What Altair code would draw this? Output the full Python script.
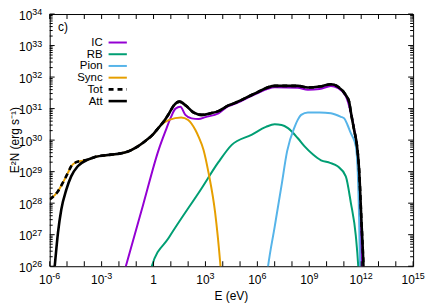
import altair as alt
import pandas as pd

FONT = "Liberation Sans"

# ---- data: log10(E / eV) and log10(E^2 N / erg s^-1) ----
ic_logE = [-1.75, -1.6, -0.6, 0.3, 0.7, 1.0, 1.27, 1.55, 1.84, 2.2, 2.6, 3.0, 3.75, 4.33, 4.71, 5.86,
           7.0, 8.34, 8.92, 9.6, 10.25, 10.64, 11.11, 11.4, 11.6, 11.75, 11.85, 11.95, 12.02, 12.05]
ic_logL = [25.7, 26.0, 27.95, 29.7, 30.3, 30.72, 31.0, 31.06, 30.8, 30.69, 30.67, 30.73, 30.85, 31.08, 31.15, 31.45,
           31.68, 31.66, 31.6, 31.62, 31.72, 31.66, 31.4, 30.87, 30.33, 29.8, 29.0, 27.4, 26.0, 25.5]

rb_logE = [-0.2, -0.1, 0.88, 2.8, 3.75, 4.52, 5.66, 6.5, 7.0, 7.4, 7.77, 8.34, 8.73, 9.2, 9.68, 10.2,
           10.64, 11.11, 11.4, 11.69, 11.83, 11.86]
rb_logL = [25.8, 26.0, 26.9, 28.49, 29.3, 29.85, 30.17, 30.42, 30.5, 30.48, 30.38, 30.06, 29.8, 29.55, 29.36, 29.28,
           29.17, 28.85, 28.02, 26.96, 26.0, 25.7]

pion_logE = [6.55, 6.62, 7.0, 7.39, 7.72, 8.16, 8.34, 8.53, 8.92, 9.6, 10.25, 10.83, 11.02, 11.21, 11.4, 11.5,
             11.69, 11.8, 11.88, 11.93, 11.95]
pion_logL = [25.7, 26.0, 27.25, 28.54, 29.65, 30.43, 30.65, 30.8, 30.88, 30.88, 30.85, 30.74, 30.69, 30.48, 30.22, 30.11,
             29.8, 29.0, 27.5, 26.0, 25.5]

sync_logE = [-6.0, -5.52, -5.24, -4.95, -4.76, -4.47, -4.1, -3.8, -3.42, -2.46, -1.9, -1.52, -1.0, -0.55, 0.0, 0.4,
             0.9, 1.6, 2.0, 2.42, 2.6, 2.89, 3.18, 3.56, 3.85, 3.9]
sync_logL = [28.12, 28.38, 28.65, 28.96, 29.17, 29.3, 29.35, 29.38, 29.46, 29.54, 29.58, 29.63, 29.77, 29.94, 30.2, 30.46,
             30.64, 30.72, 30.64, 30.32, 30.11, 29.69, 28.96, 27.7, 26.13, 25.8]

att_logE = [-5.78, -5.71, -5.52, -5.33, -5.04, -4.76, -4.38, -3.8, -3.42, -2.46, -1.9, -1.52, -1.0, -0.55, 0.0, 0.3,
            0.6, 0.88, 1.17, 1.5, 1.9, 2.3, 2.8, 3.3, 3.75, 4.33, 4.71, 5.86, 7.0, 8.34, 8.92, 9.6, 10.25, 10.64,
            11.11, 11.31, 11.4, 11.6, 11.75, 11.88, 12.01, 12.13, 12.16]
att_logL = [25.6, 26.0, 27.07, 27.8, 28.43, 28.85, 29.17, 29.38, 29.46, 29.54, 29.58, 29.63, 29.77, 29.94, 30.2, 30.4,
            30.6, 30.83, 31.1, 31.22, 31.08, 30.88, 30.8, 30.85, 30.92, 31.1, 31.18, 31.48, 31.72, 31.72, 31.67, 31.7,
            31.77, 31.7, 31.43, 31.2, 30.9, 30.3, 29.85, 29.06, 27.49, 26.0, 25.5]

tot_logE = [-6.0, -5.52, -5.24, -4.95, -4.76, -4.47, -4.1, -3.8, -3.42, -2.46, -1.9, -1.52, -1.0, -0.55, 0.0, 0.3,
            0.6, 0.88, 1.17, 1.5, 1.9, 2.3, 2.8, 3.3, 3.75, 4.33, 4.71, 5.86, 7.0, 8.34, 8.92, 9.6, 10.25, 10.64,
            11.11, 11.31, 11.4, 11.6, 11.75, 11.88, 12.01, 12.13, 12.16]
tot_logL = [28.12, 28.38, 28.65, 28.96, 29.17, 29.3, 29.35, 29.38, 29.46, 29.54, 29.58, 29.63, 29.77, 29.94, 30.2, 30.4,
            30.6, 30.83, 31.1, 31.22, 31.08, 30.88, 30.8, 30.85, 30.92, 31.1, 31.18, 31.48, 31.72, 31.72, 31.67, 31.7,
            31.77, 31.7, 31.43, 31.2, 30.9, 30.3, 29.85, 29.06, 27.49, 26.0, 25.5]

series_names = ["IC", "RB", "Pion", "Sync", "Tot", "Att"]
series_colors = ["#9400d3", "#009e73", "#56b4e9", "#e69f00", "#000000", "#000000"]
series_data = [(ic_logE, ic_logL), (rb_logE, rb_logL), (pion_logE, pion_logL),
               (sync_logE, sync_logL), (tot_logE, tot_logL), (att_logE, att_logL)]

x_tick_exps = list(range(-6, 16))
x_label_exps = [-6, -3, 0, 3, 6, 9, 12, 15]
y_tick_exps = list(range(26, 35))
y_minor_mult = [2, 3, 4, 5, 6, 7, 8, 9]

panel_label = "c)"
x_title = "E (eV)"
y_title = "E²N (erg s⁻¹)"

# ---- chart ----
W, H = 366, 254
xs = alt.Scale(type="log", domain=[1e-6, 1e15], nice=False)
ys = alt.Scale(type="log", domain=[1e26, 1e34], nice=False)

def X(f):
    return alt.X(f, type="quantitative", scale=xs, axis=None)

def Y(f):
    return alt.Y(f, type="quantitative", scale=ys, axis=None)

layers = []
widths = {"IC": 2, "RB": 2, "Pion": 2, "Sync": 2, "Tot": 2.6, "Att": 2.6}
for name, col, (lx, ly) in zip(series_names, series_colors, series_data):
    d = pd.DataFrame({"E": [10 ** a for a in lx], "L": [10 ** b for b in ly]})
    kw = dict(color=col, strokeWidth=widths[name], clip=True, interpolate="monotone")
    if name == "Tot":
        kw["strokeDash"] = [5, 4]
    layers.append(alt.Chart(d).mark_line(**kw).encode(x=X("E"), y=Y("L")))

# ticks (inward, mirrored)
xt = pd.DataFrame({"E": [10.0 ** k for k in x_tick_exps]})
yt = pd.DataFrame({"V": [10.0 ** k for k in y_tick_exps]})
ym = pd.DataFrame({"V": [m * 10.0 ** k for k in y_tick_exps[:-1] for m in y_minor_mult]})
rk = dict(color="black", strokeWidth=1)
layers += [
    alt.Chart(xt).mark_rule(**rk).encode(x=X("E"), y=alt.value(H), y2=alt.value(H - 5)),
    alt.Chart(xt).mark_rule(**rk).encode(x=X("E"), y=alt.value(0), y2=alt.value(5)),
    alt.Chart(yt).mark_rule(**rk).encode(y=Y("V"), x=alt.value(0), x2=alt.value(5)),
    alt.Chart(yt).mark_rule(**rk).encode(y=Y("V"), x=alt.value(W - 5), x2=alt.value(W)),
    alt.Chart(ym).mark_rule(**rk).encode(y=Y("V"), x=alt.value(0), x2=alt.value(3)),
    alt.Chart(ym).mark_rule(**rk).encode(y=Y("V"), x=alt.value(W - 3), x2=alt.value(W)),
]

# tick labels: base "10" plus raised exponent
BASE_FS, EXP_FS = 12, 9
CW = {"-": 0.333}
def text_w(s, fs):
    return sum(CW.get(c, 0.556) for c in s) * fs

groups = {}
for k in x_label_exps:
    if k == 0:
        continue
    s = str(k)
    dx = round((text_w("10", BASE_FS) - text_w(s, EXP_FS)) / 2, 2)
    groups.setdefault(dx, []).append(k)
for dx, ks in groups.items():
    d = pd.DataFrame({"E": [10.0 ** k for k in ks], "b": ["10"] * len(ks), "e": [str(k) for k in ks]})
    layers.append(alt.Chart(d).mark_text(align="right", baseline="alphabetic", dx=dx, fontSize=BASE_FS,
                                         font=FONT, color="black").encode(x=X("E"), y=alt.value(H + 18), text="b:N"))
    layers.append(alt.Chart(d).mark_text(align="left", baseline="alphabetic", dx=dx, fontSize=EXP_FS,
                                         font=FONT, color="black").encode(x=X("E"), y=alt.value(H + 13), text="e:N"))
one = pd.DataFrame({"E": [1.0], "t": ["1"]})
layers.append(alt.Chart(one).mark_text(align="center", baseline="alphabetic", fontSize=BASE_FS, font=FONT,
                                       color="black").encode(x=X("E"), y=alt.value(H + 18), text="t:N"))

yl = pd.DataFrame({"V": [10.0 ** k for k in y_tick_exps], "b": ["10"] * len(y_tick_exps),
                   "e": [str(k) for k in y_tick_exps]})
layers.append(alt.Chart(yl).mark_text(align="right", baseline="alphabetic", dy=5.7, fontSize=BASE_FS, font=FONT,
                                      color="black").encode(y=Y("V"), x=alt.value(-17.5), text="b:N"))
layers.append(alt.Chart(yl).mark_text(align="left", baseline="alphabetic", dy=1, fontSize=EXP_FS, font=FONT,
                                      color="black").encode(y=Y("V"), x=alt.value(-17.5), text="e:N"))

# titles and panel label
def txt(s, x, y, **kw):
    return alt.Chart(pd.DataFrame({"t": [s]})).mark_text(font=FONT, color="black", **kw).encode(
        x=alt.value(x), y=alt.value(y), text="t:N")

layers.append(txt(x_title, W / 2, H + 34.5, fontSize=12, align="center", baseline="alphabetic"))
layers.append(txt(y_title, -35, H / 2, fontSize=12, align="center", baseline="middle", angle=270))
layers.append(txt(panel_label, 8.3, 17, fontSize=12, align="left", baseline="alphabetic"))

# legend
leg_y0, leg_dy = 28.7, 11.8
for i, (name, col) in enumerate(zip(series_names, series_colors)):
    yy = leg_y0 + i * leg_dy
    layers.append(txt(name, 53.3, yy + 0.5, fontSize=11.5, align="right", baseline="middle"))
    rkw = dict(color=col, strokeWidth=widths[name])
    if name == "Tot":
        rkw["strokeDash"] = [5, 4]
    layers.append(alt.Chart(pd.DataFrame({"t": [name]})).mark_rule(**rkw).encode(
        x=alt.value(59.3), x2=alt.value(77.7), y=alt.value(yy)))

chart = alt.layer(*layers).properties(
    width=W, height=H,
    padding={"left": 42, "top": 5, "right": 15, "bottom": 40},
    autosize=alt.AutoSizeParams(type="none"),
).configure_view(stroke="black", strokeWidth=1)

chart.save("out.html", embed_options={"renderer": "svg", "actions": False})
